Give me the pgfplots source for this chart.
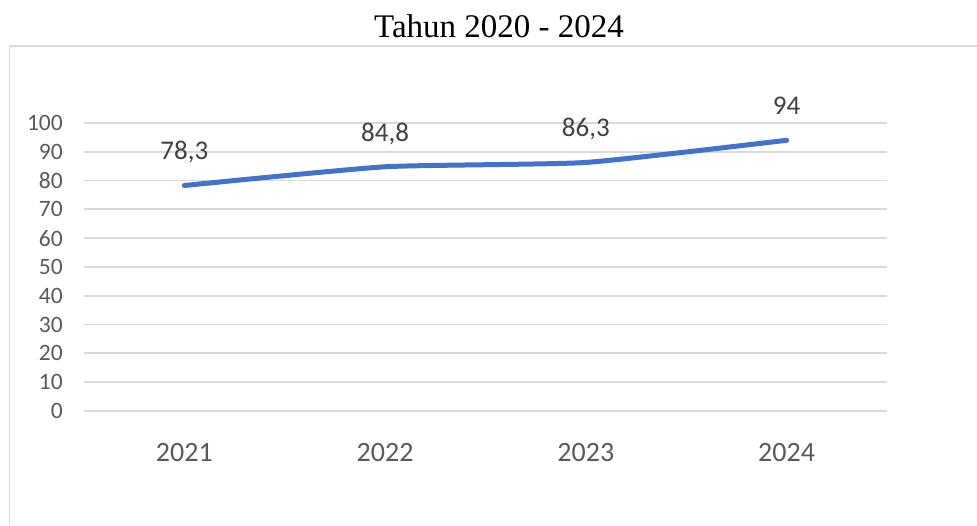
\documentclass[border=0pt]{standalone}
\usepackage{fontspec}
\setmainfont{Carlito}
\newfontfamily\titlefont{Liberation Serif}
\usepackage{pgfplots}
\pgfplotsset{compat=1.18}
\definecolor{lineblue}{HTML}{4472C4}
\definecolor{gridgray}{HTML}{D9D9D9}
\definecolor{ticktxt}{HTML}{595959}
\definecolor{lbltxt}{HTML}{404040}
\begin{document}
\begin{tikzpicture}
\useasboundingbox (0pt,0pt) rectangle (977pt,525pt);
% chart frame
\draw[gridgray, line width=1.5pt] (9.5pt,0pt) -- (9.5pt,479pt) -- (977pt,479pt);
% title
\node[anchor=base, inner sep=0pt, font=\titlefont\fontsize{33}{38}\selectfont] at (499pt,487pt) {Tahun 2020 - 2024};
\begin{axis}[
  at={(84pt,114pt)}, anchor=south west,
  width=803pt, height=288pt, scale only axis,
  xmin=-0.5, xmax=3.5, ymin=0, ymax=100,
  axis line style={draw=none},
  major tick length=0pt,
  xtick={0,1,2,3},
  xticklabels={2021,2022,2023,2024},
  ytick={0,10,...,100},
  ymajorgrids,
  grid style={gridgray, line width=1.8pt},
  /pgf/number format/assume math mode=true,
  yticklabel style={font=\fontsize{23.5}{28}\selectfont, text=ticktxt, anchor=east, inner sep=0pt, xshift=-21pt},
  xticklabel style={font=\fontsize{28}{33}\selectfont, text=ticktxt, anchor=north, inner sep=0pt, yshift=-32pt},
  clip=false,
]
\addplot[lineblue, line width=5pt, line cap=round, line join=round, smooth, tension=0.3,
  point meta=explicit symbolic,
  nodes near coords,
  nodes near coords style={font=\fontsize{27}{32}\selectfont, text=lbltxt, anchor=base, inner sep=0pt, yshift=25.5pt}]
  coordinates {(0,78.3)[78,3] (1,84.8)[84,8] (2,86.3)[86,3] (3,94)[94]};
\end{axis}
\end{tikzpicture}
\end{document}
